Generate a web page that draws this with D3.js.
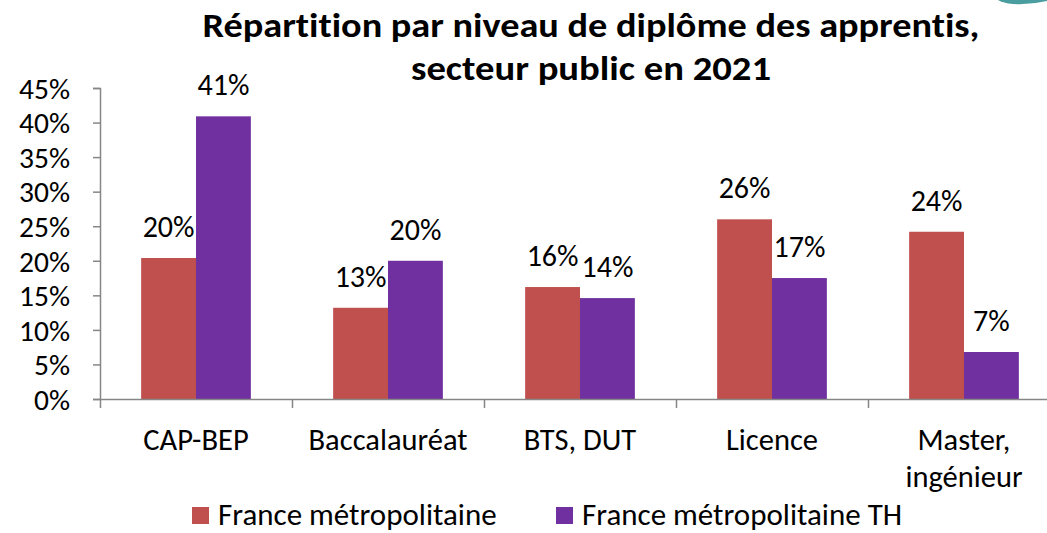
<!DOCTYPE html>
<html>
<head>
<meta charset="utf-8">
<script src="https://cdn.jsdelivr.net/npm/d3@7"></script>
<style>
  body { margin: 0; background: #fff; }
  text { font-family: Carlito, Calibri, Lato, sans-serif; fill: #000; font-variant-ligatures: none; }
</style>
</head>
<body>
<div id="chart"></div>
<script>
// data
const categories = ["CAP-BEP", "Baccalauréat", "BTS, DUT", "Licence", "Master, ingénieur"];
const seriesNames = ["France métropolitaine", "France métropolitaine TH"];
const metro = [0.204, 0.132, 0.162, 0.260, 0.242];
const metroTH = [0.409, 0.200, 0.146, 0.175, 0.068];
const labelsMetro = ["20%", "13%", "16%", "26%", "24%"];
const labelsTH = ["41%", "20%", "14%", "17%", "7%"];
const yTicks = [0, 0.05, 0.10, 0.15, 0.20, 0.25, 0.30, 0.35, 0.40, 0.45];
const titleLines = ["Répartition par niveau de diplôme des apprentis,", "secteur public en 2021"];

const colors = ["#C0504D", "#7030A0"];

const W = 1047, H = 533;
const plot = {left: 100, right: 1060, top: 88, bottom: 399};

const svg = d3.select("#chart")
    .append("svg")
    .attr("width", W)
    .attr("height", H);

// scales
const x = d3.scaleBand()
    .domain(categories)
    .range([plot.left, plot.right]);

const xs = d3.scaleBand()
    .domain(seriesNames)
    .range([0, x.bandwidth()])
    .paddingInner(0)
    .paddingOuter(0.75);

const y = d3.scaleLinear()
    .domain([0, 0.45])
    .range([plot.bottom, plot.top]);

const color = d3.scaleOrdinal().domain(seriesNames).range(colors);

// little teal logo fragment top right
svg.append("path")
    .attr("d", "M998,0 L1047,0 L1047,1 Q1030,5 1013,4 Q1003,3 998,0 Z")
    .attr("fill", "#4A9E9F");

// title (stretched a bit to the width of the original's Calibri)
const titleWidths = [777, 360];
svg.selectAll(".title")
    .data(titleLines)
    .join("text")
    .attr("class", "title")
    .attr("x", 591)
    .attr("y", (d, i) => 37 + i * 43)
    .attr("text-anchor", "middle")
    .attr("textLength", (d, i) => titleWidths[i])
    .attr("lengthAdjust", "spacingAndGlyphs")
    .style("font-weight", "bold")
    .style("font-size", "34px")
    .text(d => d);

// y axis
const yAxis = svg.append("g")
    .attr("transform", "translate(" + plot.left + ",0)")
    .call(d3.axisLeft(y).tickValues(yTicks).tickSize(7).tickPadding(23)
        .tickFormat(d => Math.round(d * 100) + "%"));
yAxis.select(".domain").attr("stroke", "#868686").attr("stroke-width", 1.5);
yAxis.selectAll(".tick line").attr("stroke", "#868686").attr("stroke-width", 1.5);
yAxis.selectAll(".tick text")
    .style("font-family", "Carlito, Calibri, Lato, sans-serif")
    .style("font-size", "29.5px")
    .attr("dy", "0.35em");

// bars
const groups = svg.selectAll(".grp")
    .data(categories)
    .join("g")
    .attr("class", "grp")
    .attr("transform", d => "translate(" + x(d) + ",0)");

const rows = categories.map((c, i) => [
    {s: seriesNames[0], v: metro[i], lab: labelsMetro[i]},
    {s: seriesNames[1], v: metroTH[i], lab: labelsTH[i]}
]);

groups.selectAll("rect")
    .data((d, i) => rows[i])
    .join("rect")
    .attr("x", d => xs(d.s))
    .attr("width", xs.bandwidth())
    .attr("y", d => y(d.v))
    .attr("height", d => y(0) - y(d.v))
    .attr("fill", d => color(d.s));

groups.selectAll(".lab")
    .data((d, i) => rows[i])
    .join("text")
    .attr("class", "lab")
    .attr("x", d => xs(d.s) + xs.bandwidth() / 2)
    .attr("y", d => y(d.v) - 21)
    .attr("text-anchor", "middle")
    .style("font-size", "30px")
    .text(d => d.lab);

// x axis: ticks at category boundaries
const xb = d3.scaleLinear().domain([0, categories.length]).range([plot.left, plot.right]);
const xAxis = svg.append("g")
    .attr("transform", "translate(0," + plot.bottom + ")")
    .call(d3.axisBottom(xb).tickValues(d3.range(categories.length + 1)).tickSize(9).tickSizeOuter(0).tickFormat(""));
xAxis.select(".domain").attr("stroke", "#868686").attr("stroke-width", 1.5);
xAxis.selectAll(".tick line").attr("stroke", "#868686").attr("stroke-width", 1.5);

// category labels, wrapped after the comma for the last one
svg.selectAll(".cat")
    .data(categories)
    .join("text")
    .attr("class", "cat")
    .attr("x", d => x(d) + x.bandwidth() / 2)
    .attr("y", 450)
    .attr("text-anchor", "middle")
    .style("font-size", "30.5px")
    .each(function (d) {
        const parts = d === "Master, ingénieur" ? ["Master,", "ingénieur"] : [d];
        d3.select(this).selectAll("tspan")
            .data(parts)
            .join("tspan")
            .attr("x", x(d) + x.bandwidth() / 2)
            .attr("dy", (p, i) => i === 0 ? 0 : 37)
            .text(p => p);
    });

// legend
const legendX = [192, 556];
const legend = svg.selectAll(".leg")
    .data(seriesNames)
    .join("g")
    .attr("class", "leg")
    .attr("transform", (d, i) => "translate(" + legendX[i] + ",507)");
legend.append("rect")
    .attr("width", 17)
    .attr("height", 17)
    .attr("fill", d => color(d));
legend.append("text")
    .attr("x", 26)
    .attr("y", 18)
    .style("font-size", "31px")
    .text(d => d);
</script>
</body>
</html>
